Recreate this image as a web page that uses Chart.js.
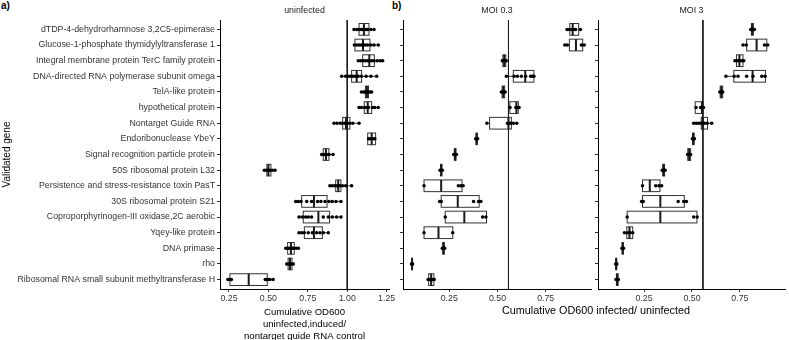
<!DOCTYPE html>
<html>
<head>
<meta charset="utf-8">
<script src="https://cdn.jsdelivr.net/npm/chart.js@4.4.1/dist/chart.umd.min.js"></script>
<style>
  body { margin: 0; width: 789px; height: 340px; position: relative; overflow: hidden; background: #fff;
         font-family: "Liberation Sans", Arial, sans-serif; }
  canvas { position: absolute; top: 0; }
  .tag { position: absolute; font-weight: bold; font-size: 10px; color: #000; }
  #xtitle-b { position: absolute; top: 304px; left: 496px; width: 200px; text-align: center;
              font-size: 10.8px; color: #000; white-space: nowrap; }
</style>
</head>
<body>
<div class="tag" style="left:1px;top:0px">a)</div>
<div class="tag" style="left:392px;top:0px">b)</div>
<canvas id="chart-a" width="400" height="342" style="left:0"></canvas>
<canvas id="chart-b" width="200" height="342" style="left:395px"></canvas>
<canvas id="chart-c" width="199" height="342" style="left:590px"></canvas>
<div id="xtitle-b">Cumulative OD600 infected/ uninfected</div>
<script>
'use strict';

/* ── DATA ─────────────────────────────────────────────────────── */
const genes = [
  'dTDP-4-dehydrorhamnose 3,2C5-epimerase',
  'Glucose-1-phosphate thymidylyltransferase 1',
  'Integral membrane protein TerC family protein',
  'DNA-directed RNA polymerase subunit omega',
  'TelA-like protein',
  'hypothetical protein',
  'Nontarget Guide RNA',
  'Endoribonuclease YbeY',
  'Signal recognition particle protein',
  '50S ribosomal protein L32',
  'Persistence and stress-resistance toxin PasT',
  '30S ribosomal protein S21',
  'Coproporphyrinogen-III oxidase,2C aerobic',
  'Yqey-like protein',
  'DNA primase',
  'rho',
  'Ribosomal RNA small subunit methyltransferase H',
];

// uninfected: [q1, median, q3] per gene, then the replicate points
const boxUninf = [
  [1.075, 1.106, 1.138], [1.049, 1.100, 1.144], [1.098, 1.140, 1.172], [1.028, 1.060, 1.091],
  [1.115, 1.125, 1.135], [1.108, 1.130, 1.155], [0.971, 0.992, 1.017], [1.130, 1.155, 1.180],
  [0.848, 0.865, 0.884], [0.490, 0.500, 0.516], [0.927, 0.943, 0.960], [0.711, 0.789, 0.872],
  [0.721, 0.817, 0.888], [0.728, 0.789, 0.842], [0.622, 0.643, 0.664], [0.625, 0.637, 0.650],
  [0.256, 0.375, 0.493],
];
const ptsUninf = [
  [1.043, 1.06, 1.075, 1.09, 1.10, 1.11, 1.12, 1.13, 1.15, 1.17],
  [1.045, 1.06, 1.075, 1.09, 1.10, 1.115, 1.13, 1.15, 1.17, 1.197],
  [1.07, 1.085, 1.10, 1.115, 1.13, 1.14, 1.155, 1.17, 1.19, 1.21, 1.225],
  [0.965, 0.99, 1.005, 1.02, 1.035, 1.05, 1.07, 1.09, 1.12, 1.15, 1.187],
  [1.09, 1.105, 1.115, 1.125, 1.135, 1.145, 1.155],
  [1.075, 1.09, 1.11, 1.125, 1.135, 1.16, 1.175, 1.197],
  [0.916, 0.935, 0.955, 0.97, 0.985, 1.0, 1.015, 1.035, 1.075],
  [1.135, 1.145, 1.165, 1.175],
  [0.838, 0.85, 0.86, 0.87, 0.885, 0.91],
  [0.474, 0.49, 0.50, 0.51, 0.525, 0.542],
  [0.89, 0.905, 0.92, 0.935, 0.945, 0.955, 0.97, 0.99, 1.028],
  [0.673, 0.69, 0.707, 0.743, 0.774, 0.812, 0.833, 0.859, 0.884, 0.905, 0.929, 0.96],
  [0.694, 0.715, 0.736, 0.753, 0.774, 0.848, 0.88, 0.905, 0.933, 0.96],
  [0.694, 0.711, 0.728, 0.753, 0.779, 0.806, 0.827, 0.848, 0.88],
  [0.61, 0.62, 0.63, 0.64, 0.65, 0.66, 0.675, 0.69],
  [0.616, 0.625, 0.635, 0.64, 0.65, 0.658],
  [0.243, 0.255, 0.265, 0.48, 0.49, 0.50, 0.51, 0.53],
];

// MOI 0.3
const boxMoi03 = [
  [0.875, 0.890, 0.921], [0.873, 0.907, 0.942], [0.528, 0.535, 0.543], [0.582, 0.644, 0.689],
  [0.524, 0.530, 0.537], [0.564, 0.598, 0.608], [0.459, 0.557, 0.572], [0.389, 0.392, 0.395],
  [0.276, 0.280, 0.285], [0.205, 0.208, 0.212], [0.119, 0.208, 0.316], [0.208, 0.294, 0.405],
  [0.229, 0.328, 0.443], [0.119, 0.194, 0.268], [0.216, 0.220, 0.224], [0.055, 0.057, 0.059],
  [0.143, 0.156, 0.170],
];
const ptsMoi03 = [
  [0.861, 0.872, 0.885, 0.895, 0.905, 0.93],
  [0.849, 0.862, 0.935, 0.95],
  [0.525, 0.53, 0.535, 0.54, 0.546],
  [0.546, 0.586, 0.603, 0.624, 0.646, 0.672, 0.68, 0.689],
  [0.52, 0.526, 0.53, 0.535, 0.54],
  [0.565, 0.595, 0.603, 0.612],
  [0.445, 0.552, 0.56, 0.569, 0.582, 0.6],
  [0.387, 0.39, 0.393, 0.397],
  [0.273, 0.278, 0.282, 0.287],
  [0.202, 0.206, 0.21, 0.214],
  [0.119, 0.297, 0.31, 0.322],
  [0.2, 0.208, 0.376, 0.402, 0.414],
  [0.229, 0.423, 0.44],
  [0.119, 0.268],
  [0.214, 0.218, 0.222, 0.226],
  [0.054, 0.057, 0.06],
  [0.14, 0.148, 0.155, 0.162, 0.172],
];

// MOI 3
const boxMoi3 = [
  [0.810, 0.814, 0.820], [0.785, 0.837, 0.890], [0.732, 0.747, 0.766], [0.718, 0.816, 0.883],
  [0.647, 0.653, 0.660], [0.517, 0.552, 0.557], [0.548, 0.556, 0.581], [0.503, 0.507, 0.511],
  [0.478, 0.485, 0.493], [0.348, 0.352, 0.357], [0.242, 0.280, 0.333], [0.242, 0.335, 0.460],
  [0.162, 0.335, 0.526], [0.160, 0.174, 0.191], [0.136, 0.139, 0.142], [0.103, 0.105, 0.107],
  [0.106, 0.110, 0.115],
];
const ptsMoi3 = [
  [0.806, 0.81, 0.815, 0.82, 0.826],
  [0.766, 0.783, 0.878, 0.895],
  [0.724, 0.735, 0.745, 0.755, 0.766, 0.77],
  [0.677, 0.72, 0.74, 0.785, 0.818, 0.864, 0.881],
  [0.645, 0.65, 0.655, 0.66],
  [0.521, 0.545, 0.552, 0.56],
  [0.509, 0.522, 0.535, 0.548, 0.557, 0.565, 0.58, 0.603],
  [0.502, 0.506, 0.51, 0.513],
  [0.477, 0.482, 0.487, 0.493],
  [0.345, 0.35, 0.355, 0.36],
  [0.242, 0.311, 0.328, 0.342],
  [0.237, 0.246, 0.428, 0.457, 0.471],
  [0.162, 0.509, 0.527],
  [0.148, 0.165, 0.177, 0.191],
  [0.135, 0.139, 0.143],
  [0.102, 0.105, 0.108],
  [0.104, 0.108, 0.112, 0.116],
];

const ticksUninf = [0.25, 0.5, 0.75, 1.0, 1.25];
const ticksInf   = [0.25, 0.5, 0.75];
const refUninf   = 1.0;     // nontarget control
const refInf     = 0.557;   // nontarget median after infection

/* ── CHART DEFAULTS ───────────────────────────────────────────── */
Chart.defaults.font.family = '"Liberation Sans", Arial, sans-serif';
Chart.defaults.color = '#333';
Chart.defaults.animation = false;

// draws whiskers, boxes and median bars underneath the points
function boxPlugin(boxes, points) {
  return {
    id: 'boxes',
    beforeDatasetsDraw(chart) {
      const { ctx, scales: { x, y } } = chart;
      ctx.save();
      boxes.forEach(([q1, med, q3], i) => {
        const lo = Math.min(...points[i]);
        const hi = Math.max(...points[i]);
        const yc = y.getPixelForValue(i);
        const yt = y.getPixelForValue(i - 0.375);
        const yb = y.getPixelForValue(i + 0.375);
        const x1 = x.getPixelForValue(q1), x3 = x.getPixelForValue(q3);
        ctx.strokeStyle = '#333';
        ctx.lineWidth = 1;
        ctx.beginPath();
        ctx.moveTo(x.getPixelForValue(lo), yc); ctx.lineTo(x1, yc);
        ctx.moveTo(x3, yc); ctx.lineTo(x.getPixelForValue(hi), yc);
        ctx.stroke();
        ctx.strokeRect(x1, yt, x3 - x1, yb - yt);
        ctx.lineWidth = 2;
        ctx.strokeStyle = '#1a1a1a';
        ctx.beginPath();
        ctx.moveTo(x.getPixelForValue(med), yt); ctx.lineTo(x.getPixelForValue(med), yb);
        ctx.stroke();
      });
      ctx.restore();
    },
  };
}

function makePanel(id, cfg) {
  const pts = [];
  cfg.points.forEach((row, i) => row.forEach(v => pts.push({ x: v, y: i })));

  return new Chart(document.getElementById(id), {
    type: 'scatter',
    data: {
      datasets: [
        {
          data: pts,
          pointRadius: 1.75,
          pointBackgroundColor: '#000',
          pointBorderWidth: 0,
          order: 1,
        },
        {
          data: [{ x: cfg.ref, y: -0.6 }, { x: cfg.ref, y: 16.6 }],
          showLine: true,
          borderColor: '#1a1a1a',
          borderWidth: 1,
          pointRadius: 0,
          order: 2,
        },
      ],
    },
    options: {
      responsive: false,
      layout: { padding: { left: 0, right: cfg.padRight, top: 0, bottom: 0 } },
      plugins: {
        legend: { display: false },
        tooltip: { enabled: false },
        title: {
          display: true,
          text: cfg.strip,
          fullSize: false,
          color: '#1a1a1a',
          font: { size: 8.8, weight: 'normal', lineHeight: 1.2 },
          padding: { top: 5, bottom: 4.44 },
        },
      },
      scales: {
        x: {
          type: 'linear',
          min: cfg.xMin,
          max: cfg.xMax,
          afterBuildTicks: s => { s.ticks = cfg.xTicks.map(v => ({ value: v })); },
          afterFit: s => { s.height = 53; },
          ticks: { callback: v => v.toFixed(2), font: { size: 8.8 }, padding: 1, maxRotation: 0, autoSkip: false },
          grid: { drawOnChartArea: false, drawTicks: true, tickLength: 3, color: '#333' },
          border: { display: true, color: '#000', width: 1 },
          title: cfg.xTitle
            ? { display: true, text: cfg.xTitle, color: '#000', font: { size: 9.6, lineHeight: 1.25 },
                padding: { top: 0, bottom: 0 } }
            : { display: false },
        },
        y: {
          type: 'linear',
          reverse: true,
          min: -0.6,
          max: 16.6,
          afterBuildTicks: s => { s.ticks = genes.map((g, i) => ({ value: i })); },
          afterFit: s => { s.width = cfg.yWidth; },
          ticks: { display: cfg.labels, callback: v => genes[v], font: { size: 8.8 }, padding: 2, autoSkip: false },
          grid: { drawOnChartArea: false, drawTicks: true, tickLength: 3, color: '#333' },
          border: { display: true, color: '#000', width: 1 },
          title: cfg.yTitle
            ? { display: true, text: cfg.yTitle, color: '#000', font: { size: 10 }, padding: { top: 1, bottom: 0 } }
            : { display: false },
        },
      },
    },
    plugins: [boxPlugin(cfg.boxes, cfg.points)],
  });
}

/* ── PANELS ───────────────────────────────────────────────────── */
makePanel('chart-a', {
  boxes: boxUninf, points: ptsUninf, ref: refUninf, strip: 'uninfected',
  xMin: 0.193, xMax: 1.265, xTicks: ticksUninf, yWidth: 220, padRight: 11, labels: true,
  yTitle: 'Validated gene',
  xTitle: ['Cumulative OD600', 'uninfected,induced/', 'nontarget guide RNA control'],
});
makePanel('chart-b', {
  boxes: boxMoi03, points: ptsMoi03, ref: refInf, strip: 'MOI 0.3',
  xMin: 0.01, xMax: 0.985, xTicks: ticksInf, yWidth: 8, padRight: 3, labels: false,
});
makePanel('chart-c', {
  boxes: boxMoi3, points: ptsMoi3, ref: refInf, strip: 'MOI 3',
  xMin: 0.01, xMax: 0.985, xTicks: ticksInf, yWidth: 8, padRight: 0, labels: false,
});
</script>
</body>
</html>
